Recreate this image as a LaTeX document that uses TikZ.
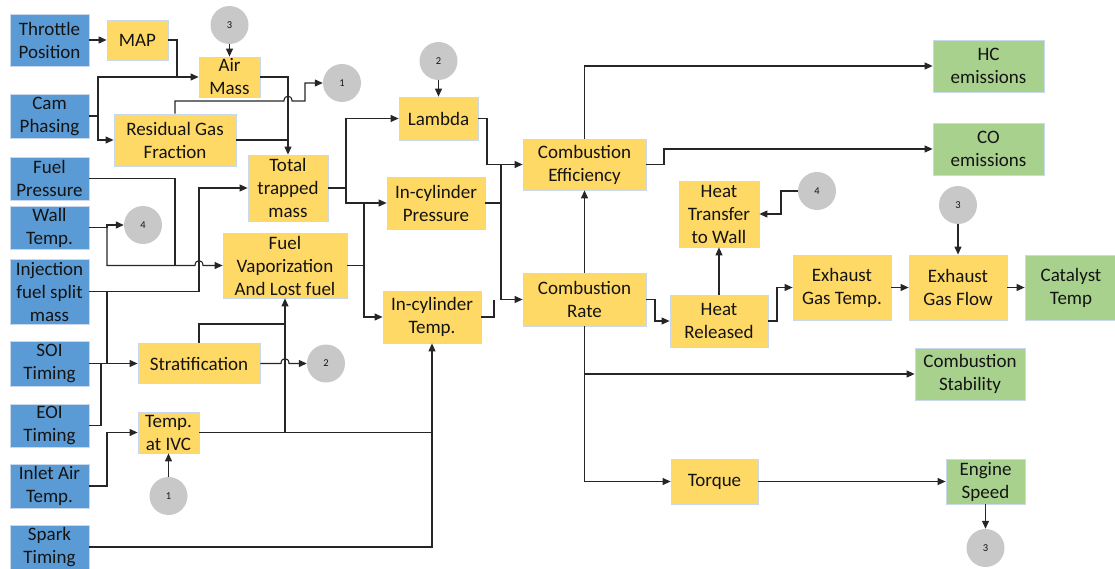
\documentclass[tikz,border=0pt]{standalone}
\usepackage{fontspec}
\setmainfont{Carlito}
\usetikzlibrary{arrows.meta}
\definecolor{bbox}{HTML}{5B9BD5}
\definecolor{ybox}{HTML}{FFD966}
\definecolor{gbox}{HTML}{A9D18E}
\definecolor{cgray}{HTML}{C8C8C8}
\definecolor{edge}{HTML}{C9D8EC}
\definecolor{ink}{HTML}{141414}
\definecolor{wire}{HTML}{262626}
\begin{document}
\begin{tikzpicture}[x=1pt,y=-1pt,
  box/.style={draw=edge,line width=0.8pt,inner sep=0pt,align=center,text=ink,
     font=\fontsize{19}{23}\selectfont},
  bluebox/.style={box,fill=bbox},
  yelbox/.style={box,fill=ybox},
  grnbox/.style={box,fill=gbox},
  refc/.style={circle,fill=cgray,minimum size=38pt,inner sep=0pt,text=ink,font=\fontsize{10.5}{12}\selectfont},
  wirel/.style={draw=wire,line width=1.1pt},
  arr/.style={wirel,-{Triangle[length=8pt,width=7pt]}}]
\useasboundingbox (0,0) rectangle (1115,569);
% blue inputs
\node[bluebox,minimum width=79pt,minimum height=52pt] (thr) at (49.5,40) {Throttle\\Position};
\node[bluebox,minimum width=79pt,minimum height=44pt] (cam) at (49.5,116) {Cam\\Phasing};
\node[bluebox,minimum width=79pt,minimum height=43pt] (fuelp) at (49.5,178.5) {Fuel\\Pressure};
\node[bluebox,minimum width=79pt,minimum height=43pt] (wall) at (49.5,227.5) {Wall\\Temp.};
\node[bluebox,minimum width=79pt,minimum height=65pt] (inj) at (49.5,291.5) {Injection\\fuel split\\mass};
\node[bluebox,minimum width=79pt,minimum height=45pt] (soi) at (49.5,363.5) {SOI\\Timing};
\node[bluebox,minimum width=79pt,minimum height=43pt] (eoi) at (49.5,425.5) {EOI\\Timing};
\node[bluebox,minimum width=79pt,minimum height=44pt] (inlet) at (49.5,486) {Inlet Air\\Temp.};
\node[bluebox,minimum width=79pt,minimum height=44pt] (spark) at (49.5,547) {Spark\\Timing};
% yellow
\node[yelbox,minimum width=61pt,minimum height=40pt] (map) at (137.5,40) {MAP};
\node[yelbox,minimum width=61pt,minimum height=40pt] (air) at (229.5,77) {Air\\Mass};
\node[yelbox,minimum width=122pt,minimum height=52pt] (rgf) at (175,140) {Residual Gas\\Fraction};
\node[yelbox,minimum width=80pt,minimum height=66pt] (ttm) at (288,188) {Total\\trapped\\mass};
\node[yelbox,minimum width=124pt,minimum height=65pt] (fvap) at (285,265.5) {Fuel\\Vaporization\\And Lost fuel};
\node[yelbox,minimum width=122pt,minimum height=40pt] (strat) at (199,363.5) {Stratification};
\node[yelbox,minimum width=61pt,minimum height=41pt] (tivc) at (168.5,432.5) {Temp.\\at IVC};
\node[yelbox,minimum width=79pt,minimum height=43pt] (lambda) at (438.5,118.5) {Lambda};
\node[yelbox,minimum width=98pt,minimum height=52pt] (pres) at (436,203) {In-cylinder\\Pressure};
\node[yelbox,minimum width=98pt,minimum height=52pt] (temp) at (432,317) {In-cylinder\\Temp.};
\node[yelbox,minimum width=123pt,minimum height=51pt] (ceff) at (584.5,164.5) {Combustion\\Efficiency};
\node[yelbox,minimum width=123pt,minimum height=53pt] (crate) at (584.5,299.5) {Combustion\\Rate};
\node[yelbox,minimum width=80pt,minimum height=66pt] (htw) at (719,214) {Heat\\Transfer\\to Wall};
\node[yelbox,minimum width=98pt,minimum height=52pt] (hrel) at (719,321) {Heat\\Released};
\node[yelbox,minimum width=98pt,minimum height=65pt] (egt) at (842,287.5) {Exhaust\\Gas Temp.};
\node[yelbox,minimum width=98pt,minimum height=65pt] (egf) at (958,287.5) {Exhaust\\Gas Flow};
\node[yelbox,minimum width=87pt,minimum height=45pt] (torque) at (714.5,481.5) {Torque};
% green
\node[grnbox,minimum width=111pt,minimum height=52pt] (hc) at (988.5,66) {HC\\emissions};
\node[grnbox,minimum width=111pt,minimum height=52pt] (co) at (988.5,149) {CO\\emissions};
\node[grnbox,minimum width=92pt,minimum height=65pt] (cat) at (1071,287.5) {Catalyst\\Temp};
\node[grnbox,minimum width=110pt,minimum height=52pt] (stab) at (970,374) {Combustion\\Stability};
\node[grnbox,minimum width=79pt,minimum height=45pt] (espeed) at (985.5,481.5) {Engine\\Speed};
% reference circles
\node[refc] (c3a) at (229.5,25) {3};
\node[refc] (c1a) at (342,83) {1};
\node[refc] (c4a) at (143,225) {4};
\node[refc] (c2a) at (326,363.5) {2};
\node[refc] (c1b) at (168.5,496) {1};
\node[refc] (c2b) at (438.5,61) {2};
\node[refc] (c4b) at (817,191) {4};
\node[refc] (c3b) at (958,205) {3};
\node[refc] (c3c) at (985.5,548) {3};
% junction points
\coordinate (camj) at (98,116);
\coordinate (fpj) at (175,265.5);
\coordinate (wallj) at (107,227.5);
\coordinate (injj) at (107,291.5);
\coordinate (ivcj) at (285,432.5);
\coordinate (ttmj) at (346,188);
\coordinate (fvj) at (364,265.5);
\coordinate (presj) at (501,203);
\coordinate (ratej) at (584.5,374);
% connectors: intake side
\draw[arr] (thr.east) -- (map.west);
\draw[arr] (map.east) -- (177,40) |- (air.west);
\draw[wirel] (cam.east) -- (camj) |- (177,77);
\draw[arr] (camj) |- (rgf.west);
\draw[arr] (air.east) -| (ttm.north);
\draw[wirel] (rgf.east) -- (288,140);
\draw[arr] (rgf.north) -- (175,101) -- (284,101) .. controls (284,94.5) and (292,94.5) .. (292,101) -- (305,101) |- (c1a.west);
\draw[arr] (c3a) -- (air);
\draw[wirel] (fuelp.east) -| (fpj);
\draw[arr] (wall.east) -- (wallj) -- (107,225) -- (c4a.west);
\draw[arr] (wallj) |- (195,265.5) .. controls (195,259) and (203,259) .. (203,265.5) -- (fvap.west);
\draw[arr] (inj.east) -- (199,291.5) |- (ttm.west);
\draw[wirel] (injj) -- (107,363.5);
\draw[arr] (soi.east) -- (strat.west);
\draw[wirel] (eoi.east) -- (101,425.5) -- (101,363.5);
\draw[arr] (inlet.east) -- (107,486) |- (tivc.west);
\draw[arr] (c1b) -- (tivc);
\draw[arr] (tivc.east) -- (ivcj) -- (fvap.south);
\draw[arr] (ivcj) -| (temp.south);
\draw[wirel] (strat.north) -- (199,324) -- (285,324);
\draw[arr] (strat.east) -- (281,363.5) .. controls (281,357) and (289,357) .. (289,363.5) -- (c2a.west);
\draw[wirel] (spark.east) -| (432,432.5);
% middle
\draw[arr] (ttm.east) -- (ttmj) |- (lambda.west);
\draw[arr] (ttmj) |- (pres.west);
\draw[arr] (fvap.east) -- (fvj) |- (temp.west);
\draw[wirel] (fvj) -- (364,203);
\draw[arr] (c2b) -- (lambda);
\draw[arr] (lambda.east) -- (487,118.5) |- (ceff.west);
\draw[wirel] (pres.east) -- (presj) -- (501,164.5);
\draw[arr] (presj) |- (crate.west);
\draw[wirel] (temp.east) -- (494,317) -- (494,299.5);
\draw[arr] (crate) -- (ceff);
% right side
\draw[arr] (ceff.north) |- (hc.west);
\draw[arr] (ceff.east) -- (664,164.5) |- (co.west);
\draw[arr] (crate.east) -- (655,299.5) |- (hrel.west);
\draw[arr] (hrel) -- (htw);
\draw[arr] (c4b.west) -- (781,191) |- (htw.east);
\draw[arr] (hrel.east) -- (777,321) |- (egt.west);
\draw[arr] (egt) -- (egf);
\draw[arr] (egf) -- (cat);
\draw[arr] (c3b) -- (egf);
\draw[arr] (crate.south) -- (ratej) -- (stab.west);
\draw[arr] (ratej) |- (torque.west);
\draw[arr] (torque) -- (espeed);
\draw[arr] (espeed) -- (c3c);
\end{tikzpicture}
\end{document}
